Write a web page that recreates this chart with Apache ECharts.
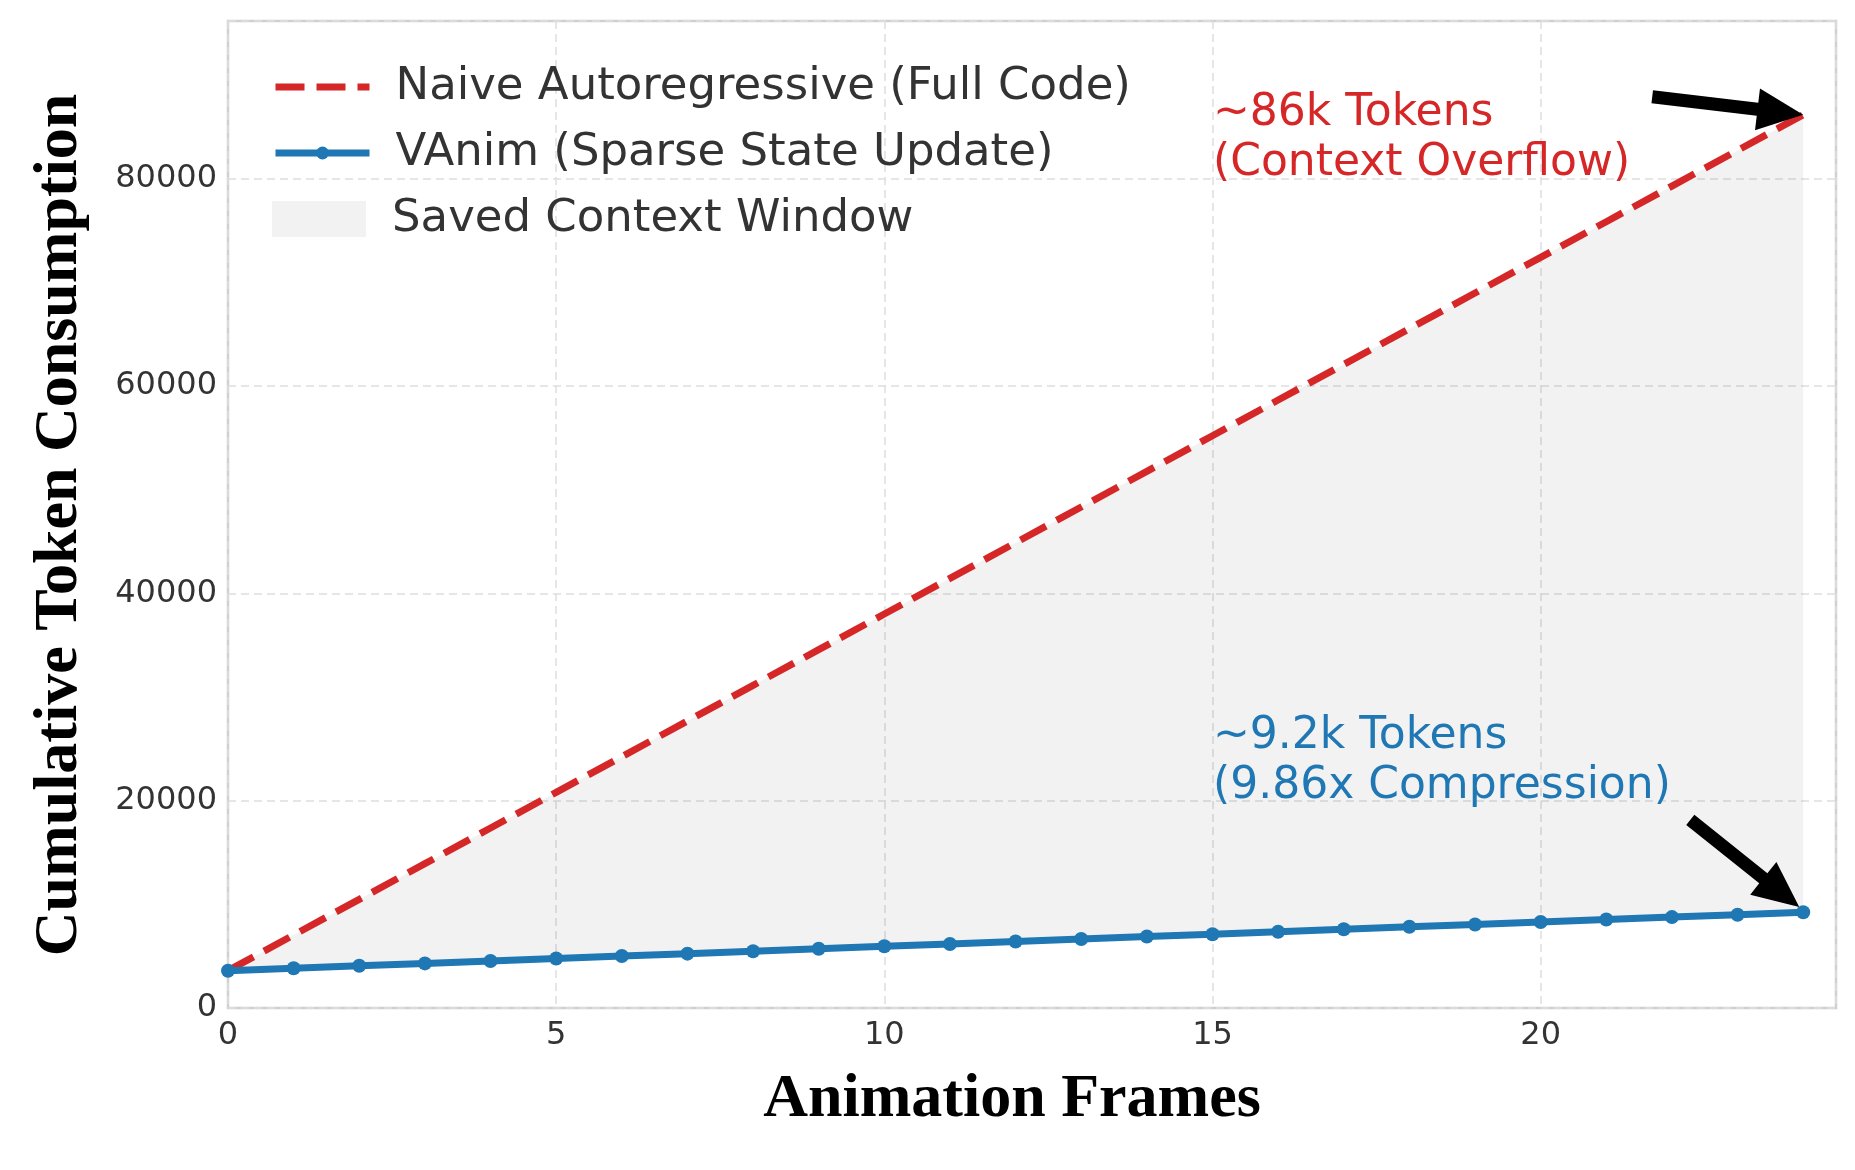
<!DOCTYPE html>
<html>
<head>
<meta charset="utf-8">
<script src="https://cdn.jsdelivr.net/npm/echarts@6/dist/echarts.min.js"></script>
<style>
html,body{margin:0;padding:0;background:#ffffff;}
#chart{width:1855px;height:1170px;}
</style>
</head>
<body>
<div id="chart"></div>
<script>
// ---- data ----
const frames = [0,1,2,3,4,5,6,7,8,9,10,11,12,13,14,15,16,17,18,19,20,21,22,23,24];
const naiveTokens = [3600,7040,10480,13920,17360,20800,24240,27680,31120,34560,38000,41440,44880,48320,51760,55200,58640,62080,65520,68960,72400,75840,79280,82720,86160];
const vanimTokens = [3600,3830,4070,4300,4540,4770,5010,5240,5480,5710,5950,6180,6420,6650,6890,7120,7360,7590,7830,8060,8300,8530,8770,9000,9240];
const xTicks = [0,5,10,15,20];
const yTicks = [0,20000,40000,60000,80000];
const seriesNames = ['Naive Autoregressive (Full Code)','VAnim (Sparse State Update)','Saved Context Window'];
const xTitle = 'Animation Frames';
const yTitle = 'Cumulative Token Consumption';
const noteNaive = '~86k Tokens\n(Context Overflow)';
const noteVanim = '~9.2k Tokens\n(9.86x Compression)';
// arrows in data coordinates: [tailX, tailY, tipX, tipY]
const arrows = [
  [21.70, 87890, 24.0, 86160],
  [22.28, 18140, 23.94, 9740]
];

const RED = '#d62728', BLUE = '#1f77b4', FILL = '#f2f2f2';
const SANS = 'DejaVu Sans';

const naiveData = frames.map((f,i)=>[f, naiveTokens[i]]);
const vanimData = frames.map((f,i)=>[f, vanimTokens[i]]);

const chart = echarts.init(document.getElementById('chart'), null, {renderer:'canvas'});

const legendBase = {
  orient:'vertical', left:267, itemWidth:94,
  textStyle:{fontFamily:SANS, fontSize:45, color:'#333333', lineHeight:50, padding:[0,0,0,21]},
  selectedMode:false
};

function renderFill(params, api){
  const top = frames.map((f,i)=>api.coord([f, naiveTokens[i]]));
  const bot = frames.map((f,i)=>api.coord([f, vanimTokens[i]])).reverse();
  return {type:'polygon', silent:true, shape:{points: top.concat(bot)},
          style:{fill:'rgba(0,0,0,0.05)', stroke:null}};
}

function renderArrow(params, api){
  const p0 = api.coord([api.value(0), api.value(1)]);
  const p1 = api.coord([api.value(2), api.value(3)]);
  const dx = p1[0]-p0[0], dy = p1[1]-p0[1];
  const len = Math.sqrt(dx*dx+dy*dy);
  const ux = dx/len, uy = dy/len, nx = -uy, ny = ux;
  const hl = 46, hw = 21, sw = 6.5;
  const bx = p1[0]-ux*hl, by = p1[1]-uy*hl;
  const pts = [
    [p0[0]+nx*sw, p0[1]+ny*sw],
    [bx+nx*sw, by+ny*sw],
    [bx+nx*hw, by+ny*hw],
    [p1[0], p1[1]],
    [bx-nx*hw, by-ny*hw],
    [bx-nx*sw, by-ny*sw],
    [p0[0]-nx*sw, p0[1]-ny*sw]
  ];
  return {type:'polygon', silent:true, shape:{points:pts}, style:{fill:'#000000', stroke:null}};
}

const option = {
  backgroundColor:'#ffffff',
  animation:false,
  grid:{left:228, right:19, top:21, bottom:162, show:true, borderColor:'#d0d0d0', borderWidth:2.5, backgroundColor:'#ffffff', containLabel:false},
  legend:[
    Object.assign({}, legendBase, {top:57, itemHeight:16, data:[seriesNames[0]],
      itemStyle:{opacity:0}, lineStyle:{width:7}}),
    Object.assign({}, legendBase, {top:123, itemHeight:16, data:[seriesNames[1]],
      lineStyle:{width:7}}),
    Object.assign({}, legendBase, {top:189, itemHeight:36, data:[{name:seriesNames[2], icon:'rect', itemStyle:{color:FILL}}]})
  ],
  xAxis:{
    type:'value', min:0, max:24.5, interval:5,
    axisLine:{show:false}, axisTick:{show:false},
    axisLabel:{fontFamily:SANS, fontSize:32, color:'#333333', margin:12, showMaxLabel:false,
      formatter:v=> xTicks.indexOf(v)>=0 ? String(v) : ''},
    splitLine:{show:true, lineStyle:{color:'#dedede', width:1.5, type:[8,5]}}
  },
  yAxis:{
    type:'value', min:0, max:95200, interval:20000,
    axisLine:{show:false}, axisTick:{show:false},
    axisLabel:{fontFamily:SANS, fontSize:32, color:'#333333', margin:11, showMaxLabel:false,
      formatter:v=> yTicks.indexOf(v)>=0 ? String(v) : ''},
    splitLine:{show:true, lineStyle:{color:'#dedede', width:1.5, type:[8,5]}}
  },
  series:[
    {name:seriesNames[2], type:'custom', data:[[frames[0], vanimTokens[0]]], renderItem:renderFill,
     itemStyle:{color:FILL}, silent:true, z:1, clip:true},
    {name:seriesNames[0], type:'line', data:naiveData, symbol:'none', color:RED,
     lineStyle:{color:RED, width:7, type:[29,12]}, itemStyle:{color:RED}, z:3},
    {name:seriesNames[1], type:'line', data:vanimData, symbol:'circle', symbolSize:14, color:BLUE,
     lineStyle:{color:BLUE, width:7}, itemStyle:{color:BLUE}, z:4},
    {name:'__arrows', type:'custom', data:arrows, renderItem:renderArrow, silent:true, z:6,
     encode:{x:[0,2], y:[1,3]}}
  ],
  graphic:[
    {type:'text', x:1213, y:89, z:10, style:{text:noteNaive, fill:RED, font:'44px "DejaVu Sans"', lineHeight:50, textAlign:'left', textVerticalAlign:'top'}},
    {type:'text', x:1213, y:712, z:10, style:{text:noteVanim, fill:BLUE, font:'44px "DejaVu Sans"', lineHeight:50, textAlign:'left', textVerticalAlign:'top'}},
    {type:'text', x:1012, y:1100, z:10, style:{text:xTitle, fill:'#000000', font:'bold 62px "Liberation Serif"', textAlign:'center', textVerticalAlign:'middle'}},
    {type:'text', x:60, y:525, rotation:Math.PI/2, z:10, style:{text:yTitle, fill:'#000000', font:'bold 62px "Liberation Serif"', textAlign:'center', textVerticalAlign:'middle'}}
  ]
};
chart.setOption(option);
</script>
</body>
</html>
